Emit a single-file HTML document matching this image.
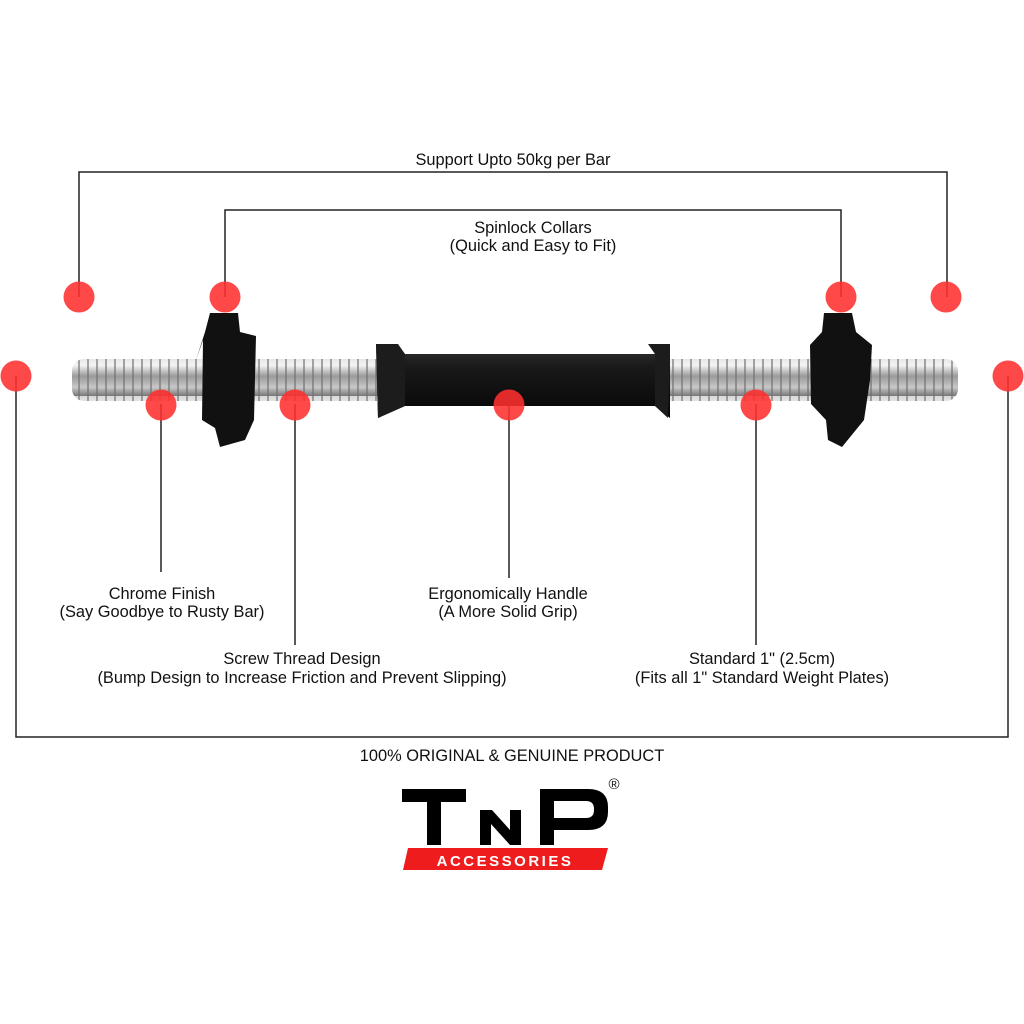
<!DOCTYPE html>
<html><head><meta charset="utf-8"><style>
html,body{margin:0;padding:0;background:#fff;width:1024px;height:1024px;overflow:hidden}
text{font-family:"Liberation Sans",sans-serif;fill:#111}
</style></head><body>
<svg width="1024" height="1024" viewBox="0 0 1024 1024" xmlns="http://www.w3.org/2000/svg">
<defs>
<linearGradient id="chrome" x1="0" y1="0" x2="0" y2="1">
<stop offset="0" stop-color="#d8d8d8"/><stop offset="0.3" stop-color="#f4f4f4"/><stop offset="0.55" stop-color="#9a9a9a"/><stop offset="0.8" stop-color="#c8c8c8"/><stop offset="1" stop-color="#777"/>
</linearGradient>
<pattern id="thread" width="9" height="44" patternUnits="userSpaceOnUse">
<rect width="9" height="44" fill="url(#chrome)"/>
<rect x="6" width="2" height="44" fill="#6e6e6e" opacity="0.6"/>
</pattern>
<linearGradient id="grip" x1="0" y1="0" x2="0" y2="1">
<stop offset="0" stop-color="#333"/><stop offset="0.3" stop-color="#1a1a1a"/><stop offset="1" stop-color="#050505"/>
</linearGradient>
</defs>
<g stroke="#222" stroke-width="1.5" fill="none">
<polyline points="79,297 79,172 947,172 947,297"/>
<polyline points="225,297 225,210 841,210 841,297"/>
<polyline points="16,376 16,737 1008,737 1008,376"/>
<line x1="161" y1="404" x2="161" y2="572"/>
<line x1="295" y1="404" x2="295" y2="645"/>
<line x1="509" y1="404" x2="509" y2="578"/>
<line x1="756" y1="404" x2="756" y2="645"/>
</g>
<rect x="72" y="359" width="886" height="42" rx="12" fill="url(#thread)"/>
<path d="M376,344 L392,344 L405,354 L655,354 L668,344 L670,344 L670,418 L655,406 L405,406 L378,418 Z" fill="url(#grip)"/>
<path d="M376,344 L398,344 L405,354 L405,406 L378,418 Z" fill="#1c1c1c"/>
<path d="M670,344 L648,344 L655,354 L655,406 L668,418 Z" fill="#1c1c1c"/>
<g fill="#111">
<path d="M210,313 L238,313 L240,332 L256,336 L254,420 L245,440 L220,447 L215,428 L202,420 L203,340 L196,360 L205,332 Z"/>
<path d="M824,313 L852,313 L856,332 L872,345 L870,380 L864,420 L842,447 L828,440 L826,420 L811,404 L810,345 L822,332 Z"/>
</g>
<g fill="#ff2f2f" fill-opacity="0.88">
<circle cx="79" cy="297" r="15.5"/><circle cx="225" cy="297" r="15.5"/>
<circle cx="841" cy="297" r="15.5"/><circle cx="946" cy="297" r="15.5"/>
<circle cx="16" cy="376" r="15.5"/><circle cx="1008" cy="376" r="15.5"/>
<circle cx="161" cy="405" r="15.5"/><circle cx="295" cy="405" r="15.5"/>
<circle cx="509" cy="405" r="15.5"/><circle cx="756" cy="405" r="15.5"/>
</g>
<g font-size="16.4" text-anchor="middle">
<text x="513" y="165">Support Upto 50kg per Bar</text>
<text x="533" y="233">Spinlock Collars</text>
<text x="533" y="251">(Quick and Easy to Fit)</text>
<text x="162" y="599">Chrome Finish</text>
<text x="162" y="617">(Say Goodbye to Rusty Bar)</text>
<text x="508" y="599">Ergonomically Handle</text>
<text x="508" y="617">(A More Solid Grip)</text>
<text x="302" y="664">Screw Thread Design</text>
<text x="302" y="683">(Bump Design to Increase Friction and Prevent Slipping)</text>
<text x="762" y="664">Standard 1" (2.5cm)</text>
<text x="762" y="683">(Fits all 1" Standard Weight Plates)</text>
<text x="512" y="761">100% ORIGINAL &amp; GENUINE PRODUCT</text>
</g>
<g fill="#000">
<rect x="402" y="789" width="64" height="13"/><rect x="427" y="789" width="14" height="56"/>
<path d="M480,810 h12 l18,20 v-20 h11 v35 h-11 l-19,-21 v21 h-11 z"/>
<path d="M540,789 h48 q20,0 20,18 v5 q0,18 -20,18 h-34 v15 h-14 z M554,801 v17 h32 q8,0 8,-8 v-1 q0,-8 -8,-8 z" fill-rule="evenodd"/>
</g>
<path d="M408,848 L608,848 L602,870 L403,870 Z" fill="#ee1c1c"/>
<text x="505" y="866" font-size="15" font-weight="bold" text-anchor="middle" style="fill:#fff;letter-spacing:2.5px">ACCESSORIES</text>
<text x="614" y="789" font-size="15" text-anchor="middle">®</text>
</svg>
</body></html>
